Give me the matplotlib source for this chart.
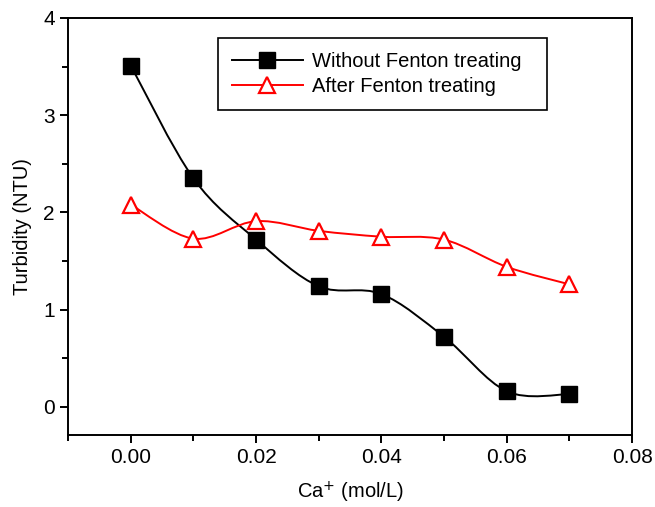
import matplotlib
matplotlib.use('Agg')
import matplotlib.pyplot as plt
from matplotlib.path import Path
from matplotlib.patches import PathPatch

plt.rcParams['font.family'] = ['Liberation Sans', 'DejaVu Sans']

ca = [0.00, 0.01, 0.02, 0.03, 0.04, 0.05, 0.06, 0.07]
without_fenton = [3.51, 2.35, 1.72, 1.24, 1.16, 0.72, 0.16, 0.13]
after_fenton = [2.08, 1.73, 1.91, 1.81, 1.75, 1.72, 1.44, 1.26]


def smooth_path(xs, ys): # catmull-rom through the points, as bezier segments
    n = len(xs)
    verts = [(xs[0], ys[0])]
    codes = [Path.MOVETO]
    for i in range(n - 1):
        a = max(i - 1, 0)
        b = min(i + 2, n - 1)
        k0 = 1.0 if i > 0 else 0.5
        k1 = 1.0 if i + 2 < n else 0.5
        c1 = (xs[i] + (xs[i + 1] - xs[a]) / 6 * k0 * (2 if i == 0 else 1),
              ys[i] + (ys[i + 1] - ys[a]) / 6 * k0 * (2 if i == 0 else 1))
        c2 = (xs[i + 1] - (xs[b] - xs[i]) / 6 * k1 * (2 if i + 2 >= n else 1),
              ys[i + 1] - (ys[b] - ys[i]) / 6 * k1 * (2 if i + 2 >= n else 1))
        verts += [c1, c2, (xs[i + 1], ys[i + 1])]
        codes += [Path.CURVE4] * 3
    return Path(verts, codes)


fig = plt.figure(figsize=(6.55, 5.07), dpi=100)
ax = fig.add_axes([0.104, 0.142, 0.861, 0.8225])

ax.add_patch(PathPatch(smooth_path(ca, without_fenton), fill=False, color='black', lw=1.4))
ax.add_patch(PathPatch(smooth_path(ca, after_fenton), fill=False, color='red', lw=1.4))

ax.plot(ca, without_fenton, ls='none', marker='s', ms=11, color='black')
ax.plot(ca, after_fenton, ls='none', marker='^', ms=11, mfc='white', mec='red', mew=1.6)

# legend handles with line + marker
h1, = ax.plot([], [], color='black', lw=1.4, marker='s', ms=11, label='Without Fenton treating  ')
h2, = ax.plot([], [], color='red', lw=1.4, marker='^', ms=11, mfc='white', mec='red', mew=1.6,
              label='After Fenton treating  ')
leg = ax.legend(handles=[h1, h2], loc='upper left', bbox_to_anchor=(0.266, 0.952), fontsize=14.5,
                fancybox=False, edgecolor='black', framealpha=1, handlelength=3.5,
                borderpad=0.7, borderaxespad=0, labelspacing=0.3, handletextpad=0.45)
leg.get_frame().set_linewidth(1.2)

ax.set_xlim(-0.01, 0.08)
ax.set_ylim(-0.29, 4)
ax.set_xticks([0.00, 0.02, 0.04, 0.06, 0.08])
ax.set_xticklabels(['0.00', '0.02', '0.04', '0.06', '0.08'])
ax.set_xticks([-0.01, 0.01, 0.03, 0.05, 0.07], minor=True)
ax.set_yticks([0, 1, 2, 3, 4])
ax.set_yticks([0.5, 1.5, 2.5, 3.5], minor=True)
ax.tick_params(which='major', direction='out', length=6, width=1.4, labelsize=15)
ax.tick_params(which='minor', direction='out', length=4, width=1.4)
for s in ax.spines.values():
    s.set_linewidth(1.4)

ax.set_xlabel('Ca$^{+}$ (mol/L)', fontsize=14.5, labelpad=9)
ax.set_ylabel('Turbidity (NTU)', fontsize=14.5, labelpad=8)

plt.savefig('out.png', dpi=100)
